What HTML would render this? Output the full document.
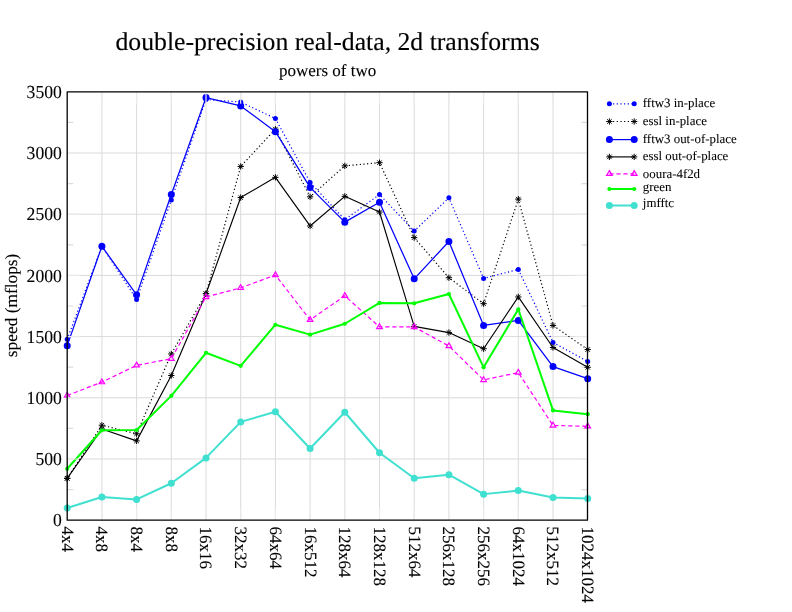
<!DOCTYPE html>
<html lang="en"><head><meta charset="utf-8"><title>double-precision real-data, 2d transforms</title>
<style>html,body{margin:0;padding:0;background:#fff;overflow:hidden}text{text-rendering:geometricPrecision;stroke:#000;stroke-width:.1px}.t{stroke-width:.14px}.l{stroke-width:.06px}</style></head>
<body>
<svg width="792" height="612" viewBox="0 0 792 612" font-family="'Liberation Serif', 'Times New Roman', serif" style="display:block">
<rect width="792" height="612" fill="#fff"/>
<path d="M101.9 91.8V520.2M136.6 91.8V520.2M171.3 91.8V520.2M206 91.8V520.2M240.7 91.8V520.2M275.4 91.8V520.2M310.1 91.8V520.2M344.8 91.8V520.2M379.5 91.8V520.2M414.2 91.8V520.2M448.9 91.8V520.2M483.6 91.8V520.2M518.3 91.8V520.2M553 91.8V520.2M67.2 459H587.5M67.2 397.8H587.5M67.2 336.6H587.5M67.2 275.4H587.5M67.2 214.2H587.5M67.2 153H587.5" stroke="#dbdbdb" stroke-width="1" fill="none"/>
<path d="M67.2 489.6h6M587.5 489.6h-6M67.2 428.4h6M587.5 428.4h-6M67.2 367.2h6M587.5 367.2h-6M67.2 306h6M587.5 306h-6M67.2 244.8h6M587.5 244.8h-6M67.2 183.6h6M587.5 183.6h-6M67.2 122.4h6M587.5 122.4h-6" stroke="#dbdbdb" stroke-width="1.2" fill="none"/>
<polyline points="67.2,339.29 101.9,246.27 136.6,299.51 171.3,200.12 206,99.51 240.7,102.08 275.4,118.48 310.1,182.38 344.8,219.71 379.5,194.49 414.2,231.09 448.9,197.8 483.6,278.46 518.3,269.4 553,342.48 587.7,361.45" fill="none" stroke="#0000ff" stroke-width="1.2" stroke-dasharray="1.2 2.47" stroke-linejoin="round"/>
<circle cx="67.2" cy="339.29" r="2.5" fill="#0000ff"/>
<circle cx="101.9" cy="246.27" r="2.5" fill="#0000ff"/>
<circle cx="136.6" cy="299.51" r="2.5" fill="#0000ff"/>
<circle cx="171.3" cy="200.12" r="2.5" fill="#0000ff"/>
<circle cx="206" cy="99.51" r="2.5" fill="#0000ff"/>
<circle cx="240.7" cy="102.08" r="2.5" fill="#0000ff"/>
<circle cx="275.4" cy="118.48" r="2.5" fill="#0000ff"/>
<circle cx="310.1" cy="182.38" r="2.5" fill="#0000ff"/>
<circle cx="344.8" cy="219.71" r="2.5" fill="#0000ff"/>
<circle cx="379.5" cy="194.49" r="2.5" fill="#0000ff"/>
<circle cx="414.2" cy="231.09" r="2.5" fill="#0000ff"/>
<circle cx="448.9" cy="197.8" r="2.5" fill="#0000ff"/>
<circle cx="483.6" cy="278.46" r="2.5" fill="#0000ff"/>
<circle cx="518.3" cy="269.4" r="2.5" fill="#0000ff"/>
<circle cx="553" cy="342.48" r="2.5" fill="#0000ff"/>
<circle cx="587.7" cy="361.45" r="2.5" fill="#0000ff"/>
<polyline points="67.2,478.34 101.9,425.22 136.6,433.79 171.3,353.98 206,293.64 240.7,166.46 275.4,129.13 310.1,196.82 344.8,165.85 379.5,162.67 414.2,237.58 448.9,277.73 483.6,303.67 518.3,199.14 553,325.46 587.7,349.57" fill="none" stroke="#000" stroke-width="1.2" stroke-dasharray="1.2 2.47" stroke-linejoin="round"/>
<path d="M64.05 478.34H70.35M67.2 475.19V481.49M64.97 476.11L69.43 480.57M64.97 480.57L69.43 476.11" stroke="#000" stroke-width="1.0" fill="none"/>
<path d="M98.75 425.22H105.05M101.9 422.07V428.37M99.67 422.99L104.13 427.44M99.67 427.44L104.13 422.99" stroke="#000" stroke-width="1.0" fill="none"/>
<path d="M133.45 433.79H139.75M136.6 430.64V436.94M134.37 431.56L138.83 436.01M134.37 436.01L138.83 431.56" stroke="#000" stroke-width="1.0" fill="none"/>
<path d="M168.15 353.98H174.45M171.3 350.83V357.13M169.07 351.75L173.53 356.21M169.07 356.21L173.53 351.75" stroke="#000" stroke-width="1.0" fill="none"/>
<path d="M202.85 293.64H209.15M206 290.49V296.79M203.77 291.41L208.23 295.86M203.77 295.86L208.23 291.41" stroke="#000" stroke-width="1.0" fill="none"/>
<path d="M237.55 166.46H243.85M240.7 163.31V169.61M238.47 164.24L242.93 168.69M238.47 168.69L242.93 164.24" stroke="#000" stroke-width="1.0" fill="none"/>
<path d="M272.25 129.13H278.55M275.4 125.98V132.28M273.17 126.9L277.63 131.36M273.17 131.36L277.63 126.9" stroke="#000" stroke-width="1.0" fill="none"/>
<path d="M306.95 196.82H313.25M310.1 193.67V199.97M307.87 194.59L312.33 199.05M307.87 199.05L312.33 194.59" stroke="#000" stroke-width="1.0" fill="none"/>
<path d="M341.65 165.85H347.95M344.8 162.7V169M342.57 163.62L347.03 168.08M342.57 168.08L347.03 163.62" stroke="#000" stroke-width="1.0" fill="none"/>
<path d="M376.35 162.67H382.65M379.5 159.52V165.82M377.27 160.44L381.73 164.9M377.27 164.9L381.73 160.44" stroke="#000" stroke-width="1.0" fill="none"/>
<path d="M411.05 237.58H417.35M414.2 234.43V240.73M411.97 235.35L416.43 239.81M411.97 239.81L416.43 235.35" stroke="#000" stroke-width="1.0" fill="none"/>
<path d="M445.75 277.73H452.05M448.9 274.58V280.88M446.67 275.5L451.13 279.95M446.67 279.95L451.13 275.5" stroke="#000" stroke-width="1.0" fill="none"/>
<path d="M480.45 303.67H486.75M483.6 300.52V306.82M481.37 301.45L485.83 305.9M481.37 305.9L485.83 301.45" stroke="#000" stroke-width="1.0" fill="none"/>
<path d="M515.15 199.14H521.45M518.3 195.99V202.29M516.07 196.92L520.53 201.37M516.07 201.37L520.53 196.92" stroke="#000" stroke-width="1.0" fill="none"/>
<path d="M549.85 325.46H556.15M553 322.31V328.61M550.77 323.23L555.23 327.69M550.77 327.69L555.23 323.23" stroke="#000" stroke-width="1.0" fill="none"/>
<path d="M584.55 349.57H590.85M587.7 346.42V352.72M585.47 347.35L589.93 351.8M585.47 351.8L589.93 347.35" stroke="#000" stroke-width="1.0" fill="none"/>
<polyline points="67.2,345.66 101.9,246.27 136.6,294.86 171.3,194.49 206,97.55 240.7,105.88 275.4,131.7 310.1,187.39 344.8,222.16 379.5,202.33 414.2,278.83 448.9,241.5 483.6,325.46 518.3,320.44 553,366.59 587.7,378.71" fill="none" stroke="#0000ff" stroke-width="1.25" stroke-linejoin="round"/>
<circle cx="67.2" cy="345.66" r="3.5" fill="#0000ff"/>
<circle cx="101.9" cy="246.27" r="3.5" fill="#0000ff"/>
<circle cx="136.6" cy="294.86" r="3.5" fill="#0000ff"/>
<circle cx="171.3" cy="194.49" r="3.5" fill="#0000ff"/>
<circle cx="206" cy="97.55" r="3.5" fill="#0000ff"/>
<circle cx="240.7" cy="105.88" r="3.5" fill="#0000ff"/>
<circle cx="275.4" cy="131.7" r="3.5" fill="#0000ff"/>
<circle cx="310.1" cy="187.39" r="3.5" fill="#0000ff"/>
<circle cx="344.8" cy="222.16" r="3.5" fill="#0000ff"/>
<circle cx="379.5" cy="202.33" r="3.5" fill="#0000ff"/>
<circle cx="414.2" cy="278.83" r="3.5" fill="#0000ff"/>
<circle cx="448.9" cy="241.5" r="3.5" fill="#0000ff"/>
<circle cx="483.6" cy="325.46" r="3.5" fill="#0000ff"/>
<circle cx="518.3" cy="320.44" r="3.5" fill="#0000ff"/>
<circle cx="553" cy="366.59" r="3.5" fill="#0000ff"/>
<circle cx="587.7" cy="378.71" r="3.5" fill="#0000ff"/>
<polyline points="67.2,478.34 101.9,429.01 136.6,440.88 171.3,375.52 206,293.76 240.7,197.55 275.4,177.36 310.1,225.95 344.8,196.33 379.5,212 414.2,326.44 448.9,332.56 483.6,348.72 518.3,296.94 553,347.49 587.7,367.32" fill="none" stroke="#000" stroke-width="1.15" stroke-linejoin="round"/>
<path d="M64.05 478.34H70.35M67.2 475.19V481.49M64.97 476.11L69.43 480.57M64.97 480.57L69.43 476.11" stroke="#000" stroke-width="1.0" fill="none"/>
<path d="M98.75 429.01H105.05M101.9 425.86V432.16M99.67 426.78L104.13 431.24M99.67 431.24L104.13 426.78" stroke="#000" stroke-width="1.0" fill="none"/>
<path d="M133.45 440.88H139.75M136.6 437.73V444.03M134.37 438.66L138.83 443.11M134.37 443.11L138.83 438.66" stroke="#000" stroke-width="1.0" fill="none"/>
<path d="M168.15 375.52H174.45M171.3 372.37V378.67M169.07 373.3L173.53 377.75M169.07 377.75L173.53 373.3" stroke="#000" stroke-width="1.0" fill="none"/>
<path d="M202.85 293.76H209.15M206 290.61V296.91M203.77 291.53L208.23 295.99M203.77 295.99L208.23 291.53" stroke="#000" stroke-width="1.0" fill="none"/>
<path d="M237.55 197.55H243.85M240.7 194.4V200.7M238.47 195.33L242.93 199.78M238.47 199.78L242.93 195.33" stroke="#000" stroke-width="1.0" fill="none"/>
<path d="M272.25 177.36H278.55M275.4 174.21V180.51M273.17 175.13L277.63 179.58M273.17 179.58L277.63 175.13" stroke="#000" stroke-width="1.0" fill="none"/>
<path d="M306.95 225.95H313.25M310.1 222.8V229.1M307.87 223.72L312.33 228.18M307.87 228.18L312.33 223.72" stroke="#000" stroke-width="1.0" fill="none"/>
<path d="M341.65 196.33H347.95M344.8 193.18V199.48M342.57 194.1L347.03 198.56M342.57 198.56L347.03 194.1" stroke="#000" stroke-width="1.0" fill="none"/>
<path d="M376.35 212H382.65M379.5 208.85V215.15M377.27 209.77L381.73 214.22M377.27 214.22L381.73 209.77" stroke="#000" stroke-width="1.0" fill="none"/>
<path d="M411.05 326.44H417.35M414.2 323.29V329.59M411.97 324.21L416.43 328.67M411.97 328.67L416.43 324.21" stroke="#000" stroke-width="1.0" fill="none"/>
<path d="M445.75 332.56H452.05M448.9 329.41V335.71M446.67 330.33L451.13 334.79M446.67 334.79L451.13 330.33" stroke="#000" stroke-width="1.0" fill="none"/>
<path d="M480.45 348.72H486.75M483.6 345.57V351.87M481.37 346.49L485.83 350.94M481.37 350.94L485.83 346.49" stroke="#000" stroke-width="1.0" fill="none"/>
<path d="M515.15 296.94H521.45M518.3 293.79V300.09M516.07 294.72L520.53 299.17M516.07 299.17L520.53 294.72" stroke="#000" stroke-width="1.0" fill="none"/>
<path d="M549.85 347.49H556.15M553 344.34V350.64M550.77 345.27L555.23 349.72M550.77 349.72L555.23 345.27" stroke="#000" stroke-width="1.0" fill="none"/>
<path d="M584.55 367.32H590.85M587.7 364.17V370.47M585.47 365.1L589.93 369.55M585.47 369.55L589.93 365.1" stroke="#000" stroke-width="1.0" fill="none"/>
<polyline points="67.2,395.47 101.9,382.13 136.6,365.36 171.3,358.75 206,296.94 240.7,287.88 275.4,275.03 310.1,319.83 344.8,295.84 379.5,326.93 414.2,326.93 448.9,346.02 483.6,379.93 518.3,372.59 553,425.46 587.7,426.32" fill="none" stroke="#ff00ff" stroke-width="1.2" stroke-dasharray="4.2 2.8" stroke-linejoin="round"/>
<path d="M67.2 392.27L70 397.07H64.4Z" stroke="#ff00ff" stroke-width="1.2" fill="none"/>
<path d="M101.9 378.93L104.7 383.73H99.1Z" stroke="#ff00ff" stroke-width="1.2" fill="none"/>
<path d="M136.6 362.16L139.4 366.96H133.8Z" stroke="#ff00ff" stroke-width="1.2" fill="none"/>
<path d="M171.3 355.55L174.1 360.35H168.5Z" stroke="#ff00ff" stroke-width="1.2" fill="none"/>
<path d="M206 293.74L208.8 298.54H203.2Z" stroke="#ff00ff" stroke-width="1.2" fill="none"/>
<path d="M240.7 284.68L243.5 289.48H237.9Z" stroke="#ff00ff" stroke-width="1.2" fill="none"/>
<path d="M275.4 271.83L278.2 276.63H272.6Z" stroke="#ff00ff" stroke-width="1.2" fill="none"/>
<path d="M310.1 316.63L312.9 321.43H307.3Z" stroke="#ff00ff" stroke-width="1.2" fill="none"/>
<path d="M344.8 292.64L347.6 297.44H342Z" stroke="#ff00ff" stroke-width="1.2" fill="none"/>
<path d="M379.5 323.73L382.3 328.53H376.7Z" stroke="#ff00ff" stroke-width="1.2" fill="none"/>
<path d="M414.2 323.73L417 328.53H411.4Z" stroke="#ff00ff" stroke-width="1.2" fill="none"/>
<path d="M448.9 342.82L451.7 347.62H446.1Z" stroke="#ff00ff" stroke-width="1.2" fill="none"/>
<path d="M483.6 376.73L486.4 381.53H480.8Z" stroke="#ff00ff" stroke-width="1.2" fill="none"/>
<path d="M518.3 369.39L521.1 374.19H515.5Z" stroke="#ff00ff" stroke-width="1.2" fill="none"/>
<path d="M553 422.26L555.8 427.06H550.2Z" stroke="#ff00ff" stroke-width="1.2" fill="none"/>
<path d="M587.7 423.12L590.5 427.92H584.9Z" stroke="#ff00ff" stroke-width="1.2" fill="none"/>
<polyline points="67.2,468.79 101.9,430.24 136.6,429.99 171.3,395.84 206,352.76 240.7,365.85 275.4,324.73 310.1,334.64 344.8,323.75 379.5,302.94 414.2,303.31 448.9,294 483.6,367.32 518.3,309.3 553,410.41 587.7,414.2" fill="none" stroke="#00ff00" stroke-width="2.0" stroke-linejoin="round"/>
<circle cx="67.2" cy="468.79" r="2.1" fill="#00ff00"/>
<circle cx="101.9" cy="430.24" r="2.1" fill="#00ff00"/>
<circle cx="136.6" cy="429.99" r="2.1" fill="#00ff00"/>
<circle cx="171.3" cy="395.84" r="2.1" fill="#00ff00"/>
<circle cx="206" cy="352.76" r="2.1" fill="#00ff00"/>
<circle cx="240.7" cy="365.85" r="2.1" fill="#00ff00"/>
<circle cx="275.4" cy="324.73" r="2.1" fill="#00ff00"/>
<circle cx="310.1" cy="334.64" r="2.1" fill="#00ff00"/>
<circle cx="344.8" cy="323.75" r="2.1" fill="#00ff00"/>
<circle cx="379.5" cy="302.94" r="2.1" fill="#00ff00"/>
<circle cx="414.2" cy="303.31" r="2.1" fill="#00ff00"/>
<circle cx="448.9" cy="294" r="2.1" fill="#00ff00"/>
<circle cx="483.6" cy="367.32" r="2.1" fill="#00ff00"/>
<circle cx="518.3" cy="309.3" r="2.1" fill="#00ff00"/>
<circle cx="553" cy="410.41" r="2.1" fill="#00ff00"/>
<circle cx="587.7" cy="414.2" r="2.1" fill="#00ff00"/>
<polyline points="67.2,507.96 101.9,496.94 136.6,499.39 171.3,483.24 206,457.9 240.7,421.91 275.4,411.75 310.1,448.47 344.8,412.24 379.5,452.76 414.2,478.22 448.9,474.67 483.6,494.13 518.3,490.58 553,497.43 587.7,498.41" fill="none" stroke="#40e0d0" stroke-width="2.0" stroke-linejoin="round"/>
<circle cx="67.2" cy="507.96" r="3.5" fill="#40e0d0"/>
<circle cx="101.9" cy="496.94" r="3.5" fill="#40e0d0"/>
<circle cx="136.6" cy="499.39" r="3.5" fill="#40e0d0"/>
<circle cx="171.3" cy="483.24" r="3.5" fill="#40e0d0"/>
<circle cx="206" cy="457.9" r="3.5" fill="#40e0d0"/>
<circle cx="240.7" cy="421.91" r="3.5" fill="#40e0d0"/>
<circle cx="275.4" cy="411.75" r="3.5" fill="#40e0d0"/>
<circle cx="310.1" cy="448.47" r="3.5" fill="#40e0d0"/>
<circle cx="344.8" cy="412.24" r="3.5" fill="#40e0d0"/>
<circle cx="379.5" cy="452.76" r="3.5" fill="#40e0d0"/>
<circle cx="414.2" cy="478.22" r="3.5" fill="#40e0d0"/>
<circle cx="448.9" cy="474.67" r="3.5" fill="#40e0d0"/>
<circle cx="483.6" cy="494.13" r="3.5" fill="#40e0d0"/>
<circle cx="518.3" cy="490.58" r="3.5" fill="#40e0d0"/>
<circle cx="553" cy="497.43" r="3.5" fill="#40e0d0"/>
<circle cx="587.7" cy="498.41" r="3.5" fill="#40e0d0"/>
<path d="M101.9 91.8v12M101.9 520.2v-12M136.6 91.8v12M136.6 520.2v-12M171.3 91.8v12M171.3 520.2v-12M206 91.8v12M206 520.2v-12M240.7 91.8v12M240.7 520.2v-12M275.4 91.8v12M275.4 520.2v-12M310.1 91.8v12M310.1 520.2v-12M344.8 91.8v12M344.8 520.2v-12M379.5 91.8v12M379.5 520.2v-12M414.2 91.8v12M414.2 520.2v-12M448.9 91.8v12M448.9 520.2v-12M483.6 91.8v12M483.6 520.2v-12M518.3 91.8v12M518.3 520.2v-12M553 91.8v12M553 520.2v-12M67.2 459h12M587.5 459h-12M67.2 397.8h12M587.5 397.8h-12M67.2 336.6h12M587.5 336.6h-12M67.2 275.4h12M587.5 275.4h-12M67.2 214.2h12M587.5 214.2h-12M67.2 153h12M587.5 153h-12" stroke="#ebebeb" stroke-width="1.2" fill="none"/>
<rect x="67.2" y="91.8" width="520.3" height="428.40000000000003" fill="none" stroke="#000" stroke-width="1.3" stroke-linejoin="round"/>
<text x="327.55" y="50" class="t" font-size="25.72" text-anchor="middle" fill="#000">double-precision real-data, 2d transforms</text>
<text x="327.65000000000003" y="75.9" font-size="17" text-anchor="middle" fill="#000">powers of two</text>
<text transform="translate(16.5 305.4) rotate(-90)" font-size="17.35" text-anchor="middle" fill="#000">speed (mflops)</text>
<text transform="translate(61.8 526.45) scale(1.035 1.08)" font-size="17" text-anchor="end" fill="#000">0</text>
<text transform="translate(61.8 465.25) scale(1.035 1.08)" font-size="17" text-anchor="end" fill="#000">500</text>
<text transform="translate(61.8 404.05) scale(1.035 1.08)" font-size="17" text-anchor="end" fill="#000">1000</text>
<text transform="translate(61.8 342.85) scale(1.035 1.08)" font-size="17" text-anchor="end" fill="#000">1500</text>
<text transform="translate(61.8 281.65) scale(1.035 1.08)" font-size="17" text-anchor="end" fill="#000">2000</text>
<text transform="translate(61.8 220.45) scale(1.035 1.08)" font-size="17" text-anchor="end" fill="#000">2500</text>
<text transform="translate(61.8 159.25) scale(1.035 1.08)" font-size="17" text-anchor="end" fill="#000">3000</text>
<text transform="translate(61.8 98.05) scale(1.035 1.08)" font-size="17" text-anchor="end" fill="#000">3500</text>
<text transform="translate(61.6 526.5) rotate(90) scale(1 1.02)" font-size="17" fill="#000">4x4</text>
<text transform="translate(96.3 526.5) rotate(90) scale(1 1.02)" font-size="17" fill="#000">4x8</text>
<text transform="translate(131 526.5) rotate(90) scale(1 1.02)" font-size="17" fill="#000">8x4</text>
<text transform="translate(165.7 526.5) rotate(90) scale(1 1.02)" font-size="17" fill="#000">8x8</text>
<text transform="translate(200.4 526.5) rotate(90) scale(1 1.02)" font-size="17" fill="#000">16x16</text>
<text transform="translate(235.1 526.5) rotate(90) scale(1 1.02)" font-size="17" fill="#000">32x32</text>
<text transform="translate(269.8 526.5) rotate(90) scale(1 1.02)" font-size="17" fill="#000">64x64</text>
<text transform="translate(304.5 526.5) rotate(90) scale(1 1.02)" font-size="17" fill="#000">16x512</text>
<text transform="translate(339.2 526.5) rotate(90) scale(1 1.02)" font-size="17" fill="#000">128x64</text>
<text transform="translate(373.9 526.5) rotate(90) scale(1 1.02)" font-size="17" fill="#000">128x128</text>
<text transform="translate(408.6 526.5) rotate(90) scale(1 1.02)" font-size="17" fill="#000">512x64</text>
<text transform="translate(443.3 526.5) rotate(90) scale(1 1.02)" font-size="17" fill="#000">256x128</text>
<text transform="translate(478 526.5) rotate(90) scale(1 1.02)" font-size="17" fill="#000">256x256</text>
<text transform="translate(512.7 526.5) rotate(90) scale(1 1.02)" font-size="17" fill="#000">64x1024</text>
<text transform="translate(547.4 526.5) rotate(90) scale(1 1.02)" font-size="17" fill="#000">512x512</text>
<text transform="translate(582.1 526.5) rotate(90) scale(1 1.02)" font-size="17" fill="#000">1024x1024</text>
<path d="M609.4 103.8H634.2" stroke="#0000ff" stroke-width="1.2" stroke-dasharray="1.2 2.47" fill="none"/>
<circle cx="609.4" cy="103.8" r="2.5" fill="#0000ff"/>
<circle cx="634.2" cy="103.8" r="2.5" fill="#0000ff"/>
<path d="M609.4 121.5H634.2" stroke="#000" stroke-width="1.2" stroke-dasharray="1.2 2.47" fill="none"/>
<path d="M606.25 121.5H612.55M609.4 118.35V124.65M607.17 119.27L611.63 123.73M607.17 123.73L611.63 119.27" stroke="#000" stroke-width="1.0" fill="none"/>
<path d="M631.05 121.5H637.35M634.2 118.35V124.65M631.97 119.27L636.43 123.73M631.97 123.73L636.43 119.27" stroke="#000" stroke-width="1.0" fill="none"/>
<path d="M609.4 139.6H634.2" stroke="#0000ff" stroke-width="1.25" fill="none"/>
<circle cx="609.4" cy="139.6" r="3.5" fill="#0000ff"/>
<circle cx="634.2" cy="139.6" r="3.5" fill="#0000ff"/>
<path d="M609.4 156.9H634.2" stroke="#000" stroke-width="1.15" fill="none"/>
<path d="M606.25 156.9H612.55M609.4 153.75V160.05M607.17 154.67L611.63 159.13M607.17 159.13L611.63 154.67" stroke="#000" stroke-width="1.0" fill="none"/>
<path d="M631.05 156.9H637.35M634.2 153.75V160.05M631.97 154.67L636.43 159.13M631.97 159.13L636.43 154.67" stroke="#000" stroke-width="1.0" fill="none"/>
<path d="M609.4 173.8H634.2" stroke="#ff00ff" stroke-width="1.2" stroke-dasharray="4.2 2.8" fill="none"/>
<path d="M609.4 170.6L612.2 175.4H606.6Z" stroke="#ff00ff" stroke-width="1.2" fill="none"/>
<path d="M634.2 170.6L637 175.4H631.4Z" stroke="#ff00ff" stroke-width="1.2" fill="none"/>
<path d="M609.4 189.0H634.2" stroke="#00ff00" stroke-width="2.0" fill="none"/>
<circle cx="609.4" cy="189" r="2.1" fill="#00ff00"/>
<circle cx="634.2" cy="189" r="2.1" fill="#00ff00"/>
<path d="M609.4 205.5H634.2" stroke="#40e0d0" stroke-width="2.0" fill="none"/>
<circle cx="609.4" cy="205.5" r="3.5" fill="#40e0d0"/>
<circle cx="634.2" cy="205.5" r="3.5" fill="#40e0d0"/>
<text x="642.8" y="107.1" class="l" font-size="12.9" fill="#000">fftw3 in-place</text>
<text x="642.8" y="124.8" class="l" font-size="12.9" fill="#000">essl in-place</text>
<text x="642.8" y="142.9" class="l" font-size="12.9" fill="#000">fftw3 out-of-place</text>
<text x="642.8" y="160.2" class="l" font-size="12.9" fill="#000">essl out-of-place</text>
<text x="642.8" y="177.8" class="l" font-size="12.9" fill="#000">ooura-4f2d</text>
<text x="642.8" y="190.6" class="l" font-size="12.9" fill="#000">green</text>
<text x="642.8" y="207.45" class="l" font-size="12.9" fill="#000">jmfftc</text>
</svg>
</body></html>
